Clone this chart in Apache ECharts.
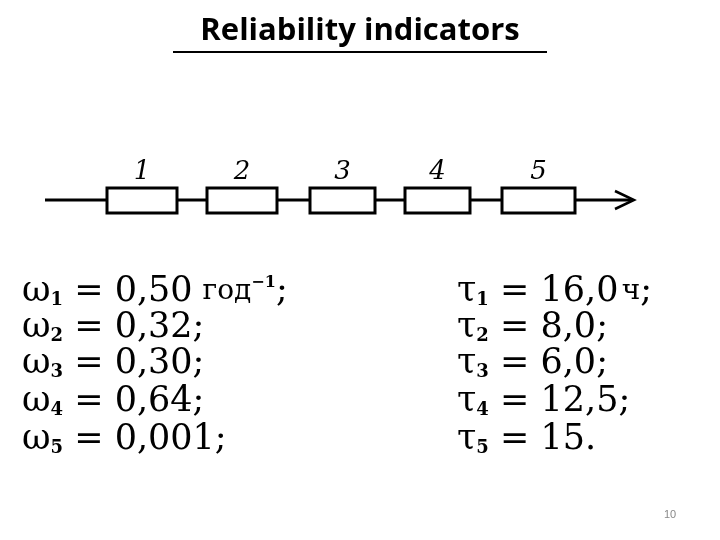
<!DOCTYPE html>
<html><head><meta charset="utf-8">
<script src="https://cdn.jsdelivr.net/npm/echarts@6/dist/echarts.min.js"></script>
<style>html,body{margin:0;background:#fff}#c{width:720px;height:540px}</style>
</head><body><div id="c"></div>
<script>
const blockLabels = ['1','2','3','4','5'];
const omegaValues = ['0,50','0,32','0,30','0,64','0,001'];
const tauValues = ['16,0','8,0','6,0','12,5','15'];
const title = 'Reliability indicators';
const pageNumber = '10';

const chart = echarts.init(document.getElementById('c'));
const boxX = [107, 207, 310, 405, 502];
const boxW = [70, 70, 65, 65, 73];
const rowY = [292, 328, 364, 402, 440];
const g = [];
g.push({type:'text', left:'center', top:16, style:{text:title, font:'bold 31px "Open Sans", sans-serif', fill:'#000'}});
g.push({type:'line', shape:{x1:173,y1:52,x2:547,y2:52}, style:{stroke:'#000', lineWidth:2}});
g.push({type:'line', shape:{x1:45,y1:200,x2:632,y2:200}, style:{stroke:'#000', lineWidth:3}});
g.push({type:'polyline', shape:{points:[[615,191],[634,200],[615,209]]}, style:{stroke:'#000', lineWidth:2.5, fill:null}});
blockLabels.forEach((l,i)=>{
  g.push({type:'rect', shape:{x:boxX[i], y:188, width:boxW[i], height:25}, style:{fill:'#fff', stroke:'#000', lineWidth:3}});
  g.push({type:'text', x:boxX[i]+boxW[i]/2, y:172, style:{text:l, font:'italic 26px "DejaVu Serif", serif', fill:'#000', align:'center', verticalAlign:'middle'}});
});
const rich = {b:{font:'35px "DejaVu Serif", serif', fill:'#000'}, s:{font:'bold 18px "DejaVu Serif", serif', fill:'#000', verticalAlign:'bottom', padding:[14,0,0,0]}, u:{font:'bold 16px "DejaVu Serif", serif', verticalAlign:'top', padding:[0,0,16,0]}, m:{font:'28px "DejaVu Serif", serif'}};
omegaValues.forEach((v,i)=>{
  const tail = i===0 ? '   {m|год}{u|−1}{b|;}' : '{b|;}';
  g.push({type:'text', x:22, y:rowY[i], style:{text:'{b|ω}{s|'+(i+1)+'}{b| = '+v+'}'+tail, rich, verticalAlign:'middle'}});
});
tauValues.forEach((v,i)=>{
  const tail = i===0 ? ' {m|ч}{b|;}' : (i===4 ? '{b|.}' : '{b|;}');
  g.push({type:'text', x:457, y:rowY[i], style:{text:'{b|τ}{s|'+(i+1)+'}{b| = '+v+'}'+tail, rich, verticalAlign:'middle'}});
});
g.push({type:'text', x:670, y:515, style:{text:pageNumber, font:'11px sans-serif', fill:'#888', align:'center', verticalAlign:'middle'}});
chart.setOption({graphic:g});
</script></body></html>
